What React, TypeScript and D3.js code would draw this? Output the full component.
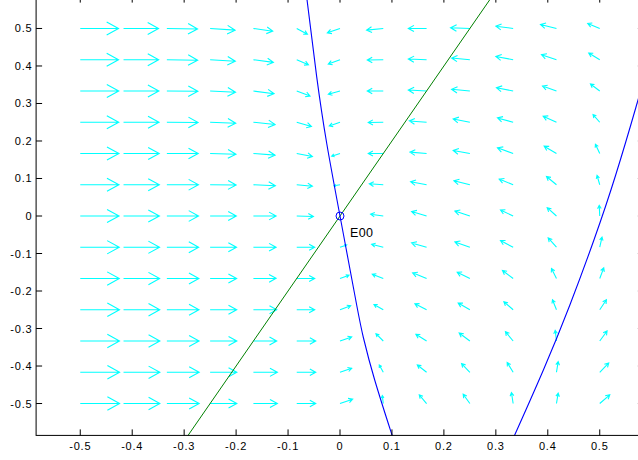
import React from "react";
import * as d3 from "d3";

// Phase-plane view: direction field, nullclines and the equilibrium E00.
const xTicks = [-0.5, -0.4, -0.3, -0.2, -0.1, 0, 0.1, 0.2, 0.3, 0.4, 0.5];
const yTicks = [-0.5, -0.4, -0.3, -0.2, -0.1, 0, 0.1, 0.2, 0.3, 0.4, 0.5];
const tickLabels = ["-0.5", "-0.4", "-0.3", "-0.2", "-0.1", "0", "0.1", "0.2", "0.3", "0.4", "0.5"];

// Field sample points (columns in x, rows in y from top to bottom)
const gridX = [-0.5, -0.4167, -0.3333, -0.25, -0.1667, -0.0833, 0, 0.0833, 0.1667, 0.25, 0.3333, 0.4167, 0.5];
const gridY = [0.5, 0.4167, 0.3333, 0.25, 0.1667, 0.0833, 0, -0.0833, -0.1667, -0.25, -0.3333, -0.4167, -0.5];

// Drawn arrow components (axis units), one row per gridY value
const fieldU = [
  [0.0737, 0.0674, 0.0591, 0.0481, 0.0372, 0.0206, -0.0244, -0.0321, -0.0352, -0.0372, -0.0333, -0.0308, -0.0231],
  [0.0737, 0.0676, 0.0593, 0.0485, 0.0385, 0.0225, -0.0225, -0.0308, -0.0352, -0.0352, -0.0333, -0.0289, -0.0212],
  [0.0741, 0.068, 0.0597, 0.0489, 0.0398, 0.0256, -0.0225, -0.0308, -0.0352, -0.0352, -0.0321, -0.0269, -0.0179],
  [0.0741, 0.0683, 0.0601, 0.0493, 0.0418, 0.0283, -0.0206, -0.0289, -0.0333, -0.0321, -0.0302, -0.0256, -0.0129],
  [0.0745, 0.0687, 0.0604, 0.0497, 0.0418, 0.0302, -0.016, -0.0289, -0.0321, -0.0321, -0.0302, -0.0237, -0.0083],
  [0.0745, 0.0689, 0.0608, 0.05, 0.0423, 0.0302, -0.0115, -0.0269, -0.0308, -0.0308, -0.0269, -0.0192, -0.0052],
  [0.0747, 0.0691, 0.061, 0.0504, 0.0437, 0.0321, 0, -0.0244, -0.0289, -0.0289, -0.0244, -0.0179, -0.001],
  [0.0751, 0.0693, 0.0612, 0.0508, 0.0437, 0.0346, 0.0129, -0.0225, -0.0289, -0.0289, -0.0244, -0.016, 0.0044],
  [0.0751, 0.0695, 0.0616, 0.051, 0.0437, 0.0346, 0.0173, -0.0212, -0.0269, -0.0244, -0.0206, -0.0096, 0.0077],
  [0.0755, 0.0697, 0.0618, 0.0512, 0.0449, 0.0346, 0.0206, -0.0179, -0.0225, -0.0225, -0.0179, -0.0077, 0.0129],
  [0.0755, 0.0699, 0.062, 0.0514, 0.0449, 0.0366, 0.0225, -0.0141, -0.0206, -0.0206, -0.0148, -0.0025, 0.0141],
  [0.0757, 0.0699, 0.0622, 0.0514, 0.0462, 0.0366, 0.0225, -0.0077, -0.0179, -0.016, -0.0115, 0.0033, 0.0173],
  [0.0757, 0.0699, 0.0622, 0.0514, 0.0462, 0.0366, 0.0244, -0.0019, -0.0141, -0.0129, -0.0033, 0.0033, 0.0193],
];
const fieldV = [
  [0, 0, -0.0013, -0.0045, -0.0072, -0.0152, -0.0115, -0.0045, 0, 0.0019, 0.0061, 0.0107, 0.0133],
  [0, 0, -0.0013, -0.004, -0.0072, -0.0133, -0.0115, -0.0008, 0.0019, 0.0045, 0.0088, 0.0133, 0.0179],
  [0, 0, -0.0008, -0.0035, -0.0072, -0.0133, -0.0088, 0, 0.0027, 0.0045, 0.0088, 0.0133, 0.0187],
  [0, 0, -0.0008, -0.0027, -0.0061, -0.0115, -0.0099, -0.0008, 0.0035, 0.0088, 0.0115, 0.016, 0.0205],
  [0, 0, 0, -0.0019, -0.0045, -0.008, -0.0072, 0, 0.0035, 0.008, 0.0152, 0.0195, 0.0248],
  [0, 0, 0, -0.0008, -0.0027, -0.004, -0.0027, 0.0027, 0.008, 0.0107, 0.0152, 0.0221, 0.0248],
  [0, 0, 0, 0, 0, -0.0013, 0, 0.0048, 0.012, 0.0133, 0.016, 0.0221, 0.0285],
  [0, 0, 0, 0, 0, 0, 0.0061, 0.008, 0.0115, 0.0141, 0.0179, 0.0248, 0.0267],
  [0, 0, 0, 0, 0.0008, 0, 0.0088, 0.0115, 0.0152, 0.0168, 0.0213, 0.0267, 0.0285],
  [0, 0, 0, 0, 0, 0, 0.0107, 0.0141, 0.016, 0.0179, 0.0213, 0.0267, 0.0267],
  [0, 0, 0, 0, 0, 0, 0.0107, 0.0195, 0.0179, 0.0213, 0.0248, 0.0285, 0.0267],
  [0, 0, 0, 0, 0, 0, 0.0107, 0.0195, 0.0195, 0.0232, 0.0259, 0.0285, 0.0248],
  [0, 0, 0, 0, 0, 0, 0.0115, 0.0213, 0.0232, 0.0248, 0.0293, 0.0275, 0.0232],
];

// Nullclines: two blue branches (horizontal flow zero) and the green line (vertical flow zero)
const blueLeft: [number, number][] = [
  [-0.0647, 0.59], [-0.0449, 0.3715], [-0.0256, 0.1939], [0, 0], [0.0321, -0.2373],
  [0.0452, -0.3253], [0.0668, -0.4373], [0.1001, -0.584], [0.1035, -0.6],
];
const blueRight: [number, number][] = [
  [0.331, -0.6], [0.3363, -0.584], [0.3915, -0.4107], [0.4425, -0.2373], [0.4888, -0.064],
  [0.5307, 0.1093], [0.5698, 0.2907], [0.5788, 0.336],
];
const greenLine: [number, number][] = [[-0.3, -0.6], [0.3, 0.6]];

const equilibrium = { x: 0, y: 0, label: "E00" };

const W = 638;
const H = 460;
const DOMAIN: [number, number] = [-0.585, 0.585];

export default function App() {
  const x = d3.scaleLinear().domain(DOMAIN).range([36.1, 643.9]);
  const y = d3.scaleLinear().domain(DOMAIN).range([435.4, -3.4]);
  const [x0, x1] = x.range();
  const [y0, y1] = y.range();

  const curve = d3
    .line<[number, number]>()
    .x((d) => x(d[0]))
    .y((d) => y(d[1]))
    .curve(d3.curveNatural);
  const straight = d3
    .line<[number, number]>()
    .x((d) => x(d[0]))
    .y((d) => y(d[1]));

  const arrows: string[] = [];
  gridY.forEach((gy, j) => {
    gridX.forEach((gx, k) => {
      const u = fieldU[j][k];
      const v = fieldV[j][k];
      if (u === 0 && v === 0) return;
      const sx = x(gx);
      const sy = y(gy);
      const ex = x(gx + u);
      const ey = y(gy + v);
      const dx = ex - sx;
      const dy = ey - sy;
      const back = 0.31;
      const side = 0.17;
      const h1x = ex - back * dx + side * dy;
      const h1y = ey - back * dy - side * dx;
      const h2x = ex - back * dx - side * dy;
      const h2y = ey - back * dy + side * dx;
      arrows.push(`M${sx},${sy}L${ex},${ey}M${h1x},${h1y}L${ex},${ey}L${h2x},${h2y}`);
    });
  });

  const font = "'Liberation Sans', Arial, Helvetica, sans-serif";
  const tickLen = 6;

  return (
    <svg width={W} height={H} style={{ position: "absolute", left: 0, top: 0, background: "#fff" }}>
      <defs>
        <clipPath id="plot-area">
          <rect x={x0} y={y1} width={x1 - x0} height={y0 - y1} />
        </clipPath>
      </defs>
      <rect x={0} y={0} width={W} height={H} fill="#fff" />

      <g clipPath="url(#plot-area)">
        <path d={arrows.join("")} fill="none" stroke="#00ffff" strokeWidth={1.1} />
        <path d={straight(greenLine) || ""} fill="none" stroke="#008000" strokeWidth={1} />
        <path d={curve(blueLeft) || ""} fill="none" stroke="#0000ff" strokeWidth={1.1} />
        <path d={curve(blueRight) || ""} fill="none" stroke="#0000ff" strokeWidth={1.1} />
        <circle cx={x(equilibrium.x)} cy={y(equilibrium.y)} r={4} fill="none" stroke="#0000ff" strokeWidth={1} />
        <text
          x={x(equilibrium.x) + 10}
          y={y(equilibrium.y) + 21}
          fontFamily={font}
          fontSize={12.5}
          letterSpacing={0.4}
          fill="#000"
        >
          {equilibrium.label}
        </text>
      </g>

      {/* Axes box with inward ticks on all four sides */}
      <rect x={x0} y={y1} width={x1 - x0} height={y0 - y1} fill="none" stroke="#000" strokeWidth={1} />
      {xTicks.map((t) => (
        <g key={`xt${t}`}>
          <line x1={x(t)} x2={x(t)} y1={y0} y2={y0 - tickLen} stroke="#000" />
          <line x1={x(t)} x2={x(t)} y1={y1} y2={y1 + tickLen} stroke="#000" />
        </g>
      ))}
      {yTicks.map((t) => (
        <g key={`yt${t}`}>
          <line x1={x0} x2={x0 + tickLen} y1={y(t)} y2={y(t)} stroke="#000" />
          <line x1={x1} x2={x1 - tickLen} y1={y(t)} y2={y(t)} stroke="#000" />
        </g>
      ))}
      {xTicks.map((t, i) => (
        <text
          key={`xl${t}`}
          x={x(t)}
          y={450}
          textAnchor="middle"
          fontFamily={font}
          fontSize={11}
          letterSpacing={0.8}
          fill="#000"
        >
          {tickLabels[i]}
        </text>
      ))}
      {yTicks.map((t, i) => (
        <text
          key={`yl${t}`}
          x={32.5}
          y={y(t) + 4}
          textAnchor="end"
          fontFamily={font}
          fontSize={11}
          letterSpacing={0.8}
          fill="#000"
        >
          {tickLabels[i]}
        </text>
      ))}
    </svg>
  );
}
